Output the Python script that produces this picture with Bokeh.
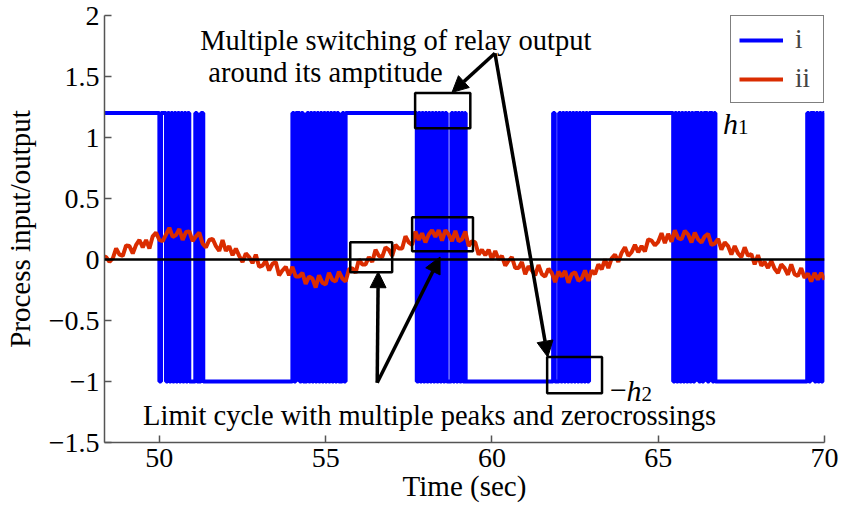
import numpy as np
from bokeh.plotting import figure
from bokeh.models import Span, Arrow, NormalHead, Label, FixedTicker
from bokeh.embed import file_html
from bokeh.resources import INLINE

# ---------------- data ----------------
x_ticks = [50, 55, 60, 65, 70]
y_ticks = [-1.5, -1.0, -0.5, 0.0, 0.5, 1.0, 1.5, 2.0]
y_tick_labels = ["\u22121.5", "\u22121", "\u22120.5", "0", "0.5", "1", "1.5", "2"]

# relay output (i): levels and switching instants (s)
relay_start_time = 48.3
relay_end_time = 70.0
relay_h1 = 1.2
relay_h2 = -1.0
relay_switch_times = [
    # burst A
    50.00, 50.05, 50.20, 50.25, 50.30, 50.35, 50.40, 50.45, 50.50, 50.55, 50.60, 50.65,
    50.70, 50.75, 50.80, 50.85, 50.90,
    # burst B
    51.08, 51.13, 51.25, 51.32,
    # burst C
    54.00, 54.05, 54.10, 54.22, 54.27, 54.32, 54.44, 54.49, 54.54, 54.59, 54.64, 54.69,
    54.74, 54.79, 54.84, 54.89, 54.94, 54.99, 55.04, 55.09, 55.14, 55.19, 55.24, 55.29,
    55.34, 55.39, 55.50, 55.55, 55.60,
    # burst D
    57.74, 57.79, 57.84, 57.89, 57.94, 57.99, 58.04, 58.09, 58.14, 58.19, 58.24, 58.29,
    58.34, 58.39, 58.44, 58.49, 58.54, 58.59, 58.64, 58.78, 58.83, 58.88, 58.93, 58.98,
    59.03, 59.08, 59.13, 59.18, 59.21,
    # burst E
    61.84, 61.89, 62.02, 62.07, 62.12, 62.17, 62.22, 62.27, 62.32, 62.37, 62.42, 62.47,
    62.52, 62.57, 62.62, 62.67, 62.72, 62.77, 62.82, 62.87, 62.92,
    # burst F
    65.45, 65.50, 65.55, 65.60, 65.65, 65.70, 65.75, 65.80, 65.85, 65.90, 65.95, 66.00,
    66.05, 66.10, 66.22, 66.27, 66.32, 66.37, 66.48, 66.53, 66.63, 66.68, 66.72,
    # burst G
    69.48, 69.53, 69.58, 69.70, 69.75, 69.80, 69.85, 69.90, 69.95,
]

# process output (ii): sampled every 0.1 s from 48.3 s
process_t0 = 48.3
process_dt = 0.1
process_values = [
    0.03, 0.02, -0.02, 0.01, 0.09, 0.04, 0.03, 0.115, 0.11, 0.05,
    0.12, 0.16, 0.10, 0.16, 0.09, 0.19, 0.22, 0.16, 0.15, 0.205,
    0.26, 0.185, 0.20, 0.25, 0.16, 0.225, 0.23, 0.15, 0.19, 0.22,
    0.13, 0.10, 0.16, 0.17, 0.11, 0.07, 0.16, 0.07, 0.11, 0.035,
    0.09, 0.03, -0.02, 0.05, 0.02, -0.03, 0.04, -0.06, -0.05, -0.01,
    -0.09, -0.035, -0.02, -0.13, -0.09, -0.06, -0.13, -0.06, -0.14, -0.14,
    -0.11, -0.20, -0.14, -0.155, -0.23, -0.13, -0.19, -0.205, -0.11, -0.165,
    -0.18, -0.10, -0.155, -0.18, -0.08, -0.07, -0.11, 0.00, -0.04, -0.04,
    0.02, -0.02, 0.08, 0.03, 0.02, 0.10, 0.08, 0.03, 0.12, 0.09,
    0.09, 0.19, 0.14, 0.12, 0.23, 0.16, 0.215, 0.14, 0.205, 0.24,
    0.185, 0.24, 0.155, 0.24, 0.205, 0.15, 0.235, 0.15, 0.165, 0.23,
    0.11, 0.15, 0.14, 0.04, 0.08, 0.035, 0.08, 0.00, 0.07, 0.00,
    0.03, -0.05, -0.01, 0.02, -0.07, -0.07, -0.02, -0.12, -0.055, -0.09,
    -0.13, -0.045, -0.12, -0.14, -0.075, -0.11, -0.185, -0.10, -0.14, -0.095,
    -0.19, -0.12, -0.105, -0.175, -0.155, -0.09, -0.175, -0.09, -0.12, -0.04,
    -0.08, 0.00, -0.07, 0.01, 0.04, -0.02, 0.055, 0.10, 0.03, 0.06,
    0.12, 0.06, 0.11, 0.065, 0.165, 0.155, 0.115, 0.145, 0.215, 0.135,
    0.21, 0.145, 0.24, 0.175, 0.165, 0.235, 0.205, 0.14, 0.22, 0.165,
    0.14, 0.19, 0.21, 0.12, 0.13, 0.17, 0.08, 0.14, 0.11, 0.04,
    0.11, 0.05, 0.02, 0.10, 0.03, 0.045, -0.04, 0.035, -0.05, -0.02,
    -0.07, -0.01, -0.075, -0.11, -0.04, -0.07, -0.125, -0.04, -0.12, -0.135,
    -0.07, -0.15, -0.115, -0.18, -0.11, -0.165, -0.11, -0.165,
]

# annotation boxes (data coords)
box_left = [57.69, 61.66, 55.74, 57.60]
box_right = [59.35, 63.31, 57.00, 59.43]
box_top = [1.365, -0.80, 0.142, 0.347]
box_bottom = [1.076, -1.096, -0.104, 0.068]

# arrows (start -> end)
arrow_x0 = [60.09, 60.09, 56.55, 56.55]
arrow_y0 = [1.69, 1.69, -1.01, -1.01]
arrow_x1 = [58.80, 61.68, 56.58, 58.44]
arrow_y1 = [1.37, -0.80, -0.10, 0.02]

# ---------------- build series ----------------
bx = [relay_start_time]
by = [relay_h1]
level = relay_h1
for ts in relay_switch_times:
    other = relay_h2 if level == relay_h1 else relay_h1
    bx += [ts, ts]
    by += [level, other]
    level = other
bx.append(relay_end_time)
by.append(level)

rt = [process_t0 + process_dt * k for k in range(len(process_values))]

FONT = "Liberation Serif"
AXIS_GREY = "#555555"

p = figure(width=841, height=510, x_range=(48.35, 70.0), y_range=(-1.5, 2.0),
           output_backend="svg", toolbar_location=None,
           min_border_left=104, min_border_right=17, min_border_top=15, min_border_bottom=68)
p.outline_line_color = None
p.grid.visible = False
p.background_fill_color = "white"
p.border_fill_color = "white"

r_blue = p.line(bx, by, line_color="#0000FF", line_width=4, legend_label="i")
r_red = p.line(rt, process_values, line_color="#DA2C00", line_width=4, legend_label="ii")

p.add_layout(Span(location=0, dimension="width", line_color="black", line_width=2.5))

p.quad(left=box_left, right=box_right, top=box_top, bottom=box_bottom,
       fill_color=None, line_color="black", line_width=2.5)

for x0, y0, x1, y1 in zip(arrow_x0, arrow_y0, arrow_x1, arrow_y1):
    p.add_layout(Arrow(x_start=x0, y_start=y0, x_end=x1, y_end=y1,
                       line_color="black", line_width=3.5,
                       end=NormalHead(size=16, fill_color="black", line_color="black", line_width=1)))

# axes
for ax in (p.xaxis[0], p.yaxis[0]):
    ax.axis_line_color = AXIS_GREY
    ax.axis_line_width = 1.5
    ax.major_tick_line_color = AXIS_GREY
    ax.major_tick_line_width = 1.5
    ax.major_tick_in = 7
    ax.major_tick_out = 0
    ax.minor_tick_line_color = None
    ax.major_label_text_font = FONT
    ax.major_label_text_font_size = "28px"
    ax.major_label_text_color = "black"
    ax.axis_label_text_font = FONT
    ax.axis_label_text_font_size = "29px"
    ax.axis_label_text_font_style = "normal"
    ax.axis_label_text_color = "black"

p.xaxis.ticker = FixedTicker(ticks=x_ticks)
p.yaxis.ticker = FixedTicker(ticks=y_ticks)
p.yaxis.major_label_overrides = {t: s for t, s in zip(y_ticks, y_tick_labels)}
p.xaxis.major_label_standoff = 6
p.yaxis.major_label_standoff = 5
p.xaxis.axis_label = "Time (sec)"
p.xaxis.axis_label_standoff = 0
p.yaxis.axis_label = "Process input/output"
p.yaxis.axis_label_standoff = 10

# annotation texts
def txt(x, y, s, size="28.5px", style="normal", align="left"):
    p.add_layout(Label(x=x, y=y, text=s, text_font=FONT, text_font_size=size,
                       text_font_style=style, text_align=align, text_baseline="alphabetic",
                       text_color="black"))

txt(51.23, 1.797, "Multiple switching of relay output")
txt(51.47, 1.535, "around its amptitude")
txt(49.51, -1.276, "Limit cycle with multiple peaks and zerocrossings")
txt(66.95, 1.117, "h", size="30px", style="italic")
txt(67.40, 1.084, "1", size="21px")
txt(63.55, -1.07, "\u2212", size="30px")
txt(64.05, -1.07, "h", size="30px", style="italic")
txt(64.50, -1.105, "2", size="21px")

# legend
lg = p.legend[0]
lg.location = "top_right"
lg.margin = 0
lg.padding = 8
lg.spacing = 8
lg.glyph_width = 44
lg.glyph_height = 26
lg.label_standoff = 12
lg.label_text_font = FONT
lg.label_text_font_size = "27px"
lg.label_height = 26
lg.border_line_color = "black"
lg.border_line_width = 1.5
lg.background_fill_alpha = 1.0

open("out.html", "w").write(file_html(p, INLINE))
